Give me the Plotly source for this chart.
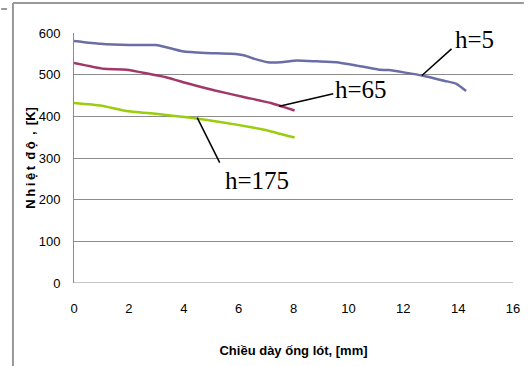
import plotly.graph_objects as go

# ---- data ----
x_h5 = [0, 0.96, 2.03, 2.99, 3.35, 3.95, 4.78, 5.74, 6.22, 6.58, 7.06, 7.54, 8.13, 8.85, 9.57, 10.29, 11.12, 11.48, 12.68, 13.52, 13.94, 14.29]
y_h5 = [581, 574, 571, 571, 566, 556, 552, 550, 546, 538, 530, 530, 534, 532, 530, 522, 512, 511, 498, 485, 478, 461]

x_h65 = [0, 1.08, 1.91, 3.35, 4.19, 5.14, 6.22, 7.18, 7.66, 8.04]
y_h65 = [528, 514, 512, 494, 478, 462, 446, 432, 422, 414]

x_h175 = [0, 0.96, 1.91, 2.99, 4.19, 5.38, 6.46, 6.94, 8.04]
y_h175 = [432, 426, 413, 406, 397, 386, 374, 368, 349]

x_ticks = [0, 2, 4, 6, 8, 10, 12, 14, 16]
y_ticks = [0, 100, 200, 300, 400, 500, 600]

labels = ["h=5", "h=65", "h=175"]

SANS = "Liberation Sans Narrow, Arial Narrow, Liberation Sans, Arial"

L, T, W, H = 74, 33, 446, 250
def px(xp): return (xp - L) / W
def py(yp): return (T + H - yp) / H

fig = go.Figure()

# outer frame pieces first (paper coordinates relative to plot area)
fig.add_shape(type="line", xref="paper", yref="paper",
              x0=px(12), y0=py(3), x1=px(12), y1=py(366),
              line=dict(color="#999999", width=2))
fig.add_shape(type="line", xref="paper", yref="paper",
              x0=px(12), y0=py(3), x1=px(531), y1=py(3),
              line=dict(color="#999999", width=2))
fig.add_shape(type="line", xref="paper", yref="paper",
              x0=px(0), y0=py(9), x1=px(6), y1=py(9),
              line=dict(color="#999999", width=2))

for xs, ys, col in [(x_h5, y_h5, "#6B6DA6"), (x_h65, y_h65, "#A2386A"), (x_h175, y_h175, "#9ACD0F")]:
    fig.add_trace(go.Scatter(x=xs, y=ys, mode="lines",
                             line=dict(color=col, width=2.5, shape="spline", smoothing=0.4),
                             showlegend=False, hoverinfo="skip"))

# leader lines (head on curve -> near label)
leaders = [((12.68, 498), (13.76, 562)),
           ((7.48, 424), (9.45, 454)),
           ((4.49, 397), (5.31, 289))]
for (x0, y0), (x1, y1) in leaders:
    fig.add_shape(type="line", xref="x", yref="y", x0=x0, y0=y0, x1=x1, y1=y1,
                  line=dict(color="black", width=1.5))

label_pos = [(13.82, 585), (9.45, 464), (5.42, 247)]
for txt, (lx, ly) in zip(labels, label_pos):
    fig.add_annotation(x=lx, y=ly, xref="x", yref="y", text=txt, showarrow=False,
                       xanchor="left", yanchor="middle",
                       font=dict(family="Liberation Serif, Times New Roman, serif", size=25, color="black"))

sp = "\u2009"
ytitle = sp.join(list("Nhiệt")) + sp + " " + sp.join(list("độ")) + sp + " ," + sp + " [K]"

fig.update_layout(
    width=531, height=366,
    margin=dict(l=L, r=531 - L - W, t=T, b=366 - T - H),
    paper_bgcolor="white", plot_bgcolor="white",
    xaxis=dict(range=[0, 16], tickvals=x_ticks, ticktext=[str(v) for v in x_ticks],
               showgrid=False, zeroline=False, showline=False,
               ticks="", ticklabelstandoff=16,
               tickfont=dict(family=SANS, size=13, color="black"),
               title=dict(text="<b>Chiều dày ống lót, [mm]</b>", standoff=30,
                          font=dict(family=SANS, size=13, color="black"))),
    yaxis=dict(range=[0, 600], tickvals=y_ticks, ticktext=[str(v) for v in y_ticks],
               showgrid=True, gridcolor="#8C8C8C", gridwidth=1,
               zeroline=False, showline=True, linecolor="#8C8C8C", linewidth=1,
               ticks="", ticklabelstandoff=10,
               tickfont=dict(family=SANS, size=13, color="black"),
               title=dict(text="<b>" + ytitle + "</b>", standoff=0,
                          font=dict(family=SANS, size=13, color="black"))),
)
# bottom axis line at y=0
fig.add_shape(type="line", xref="paper", yref="y", x0=0, x1=1, y0=0, y1=0,
              line=dict(color="#8C8C8C", width=1), layer="below")

fig.write_html("out.html", config={"displayModeBar": False},
               post_script="document.body.style.margin='0';document.body.style.overflow='hidden';")
